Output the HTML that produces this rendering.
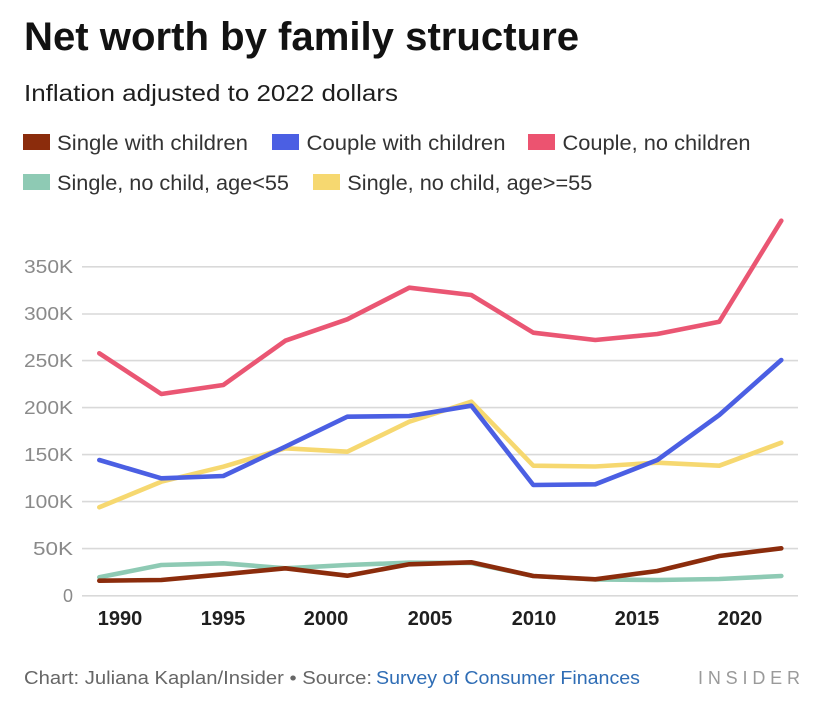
<!DOCTYPE html>
<html>
<head>
<meta charset="utf-8">
<style>
  html, body { margin: 0; padding: 0; background: #ffffff; }
  svg { display: block; }
  text { font-family: "Liberation Sans", "DejaVu Sans", sans-serif; }
</style>
</head>
<body>
<svg width="828" height="712" viewBox="0 0 828 712" xmlns="http://www.w3.org/2000/svg">
  <rect x="0" y="0" width="828" height="712" fill="#ffffff"/>

  <!-- Title & subtitle -->
  <text x="24" y="50" font-size="40" font-weight="bold" fill="#121212" textLength="555" lengthAdjust="spacingAndGlyphs">Net worth by family structure</text>
  <text x="24" y="101" font-size="23" fill="#1e1e1e" textLength="374" lengthAdjust="spacingAndGlyphs">Inflation adjusted to 2022 dollars</text>

  <!-- Legend -->
  <rect x="23" y="134" width="27" height="16" fill="#8b2c0c"/>
  <text x="57" y="150" font-size="21" fill="#333333" textLength="191" lengthAdjust="spacingAndGlyphs">Single with children</text>
  <rect x="272" y="134" width="27" height="16" fill="#4b5fe3"/>
  <text x="306.5" y="150" font-size="21" fill="#333333" textLength="199" lengthAdjust="spacingAndGlyphs">Couple with children</text>
  <rect x="528" y="134" width="27" height="16" fill="#ec5370"/>
  <text x="562.5" y="150" font-size="21" fill="#333333" textLength="188" lengthAdjust="spacingAndGlyphs">Couple, no children</text>

  <rect x="23" y="174" width="27" height="16" fill="#8ecab4"/>
  <text x="57" y="190" font-size="21" fill="#333333" textLength="232" lengthAdjust="spacingAndGlyphs">Single, no child, age&lt;55</text>
  <rect x="313" y="174" width="27" height="16" fill="#f6d870"/>
  <text x="347.3" y="190" font-size="21" fill="#333333" textLength="245" lengthAdjust="spacingAndGlyphs">Single, no child, age&gt;=55</text>

  <!-- Gridlines -->
  <g stroke="#d9d9d9" stroke-width="1.6">
    <line x1="82" y1="595.8" x2="798" y2="595.8"/>
    <line x1="82" y1="548.6" x2="798" y2="548.6"/>
    <line x1="82" y1="501.6" x2="798" y2="501.6"/>
    <line x1="82" y1="454.6" x2="798" y2="454.6"/>
    <line x1="82" y1="407.6" x2="798" y2="407.6"/>
    <line x1="82" y1="360.6" x2="798" y2="360.6"/>
    <line x1="82" y1="314.0" x2="798" y2="314.0"/>
    <line x1="82" y1="266.8" x2="798" y2="266.8"/>
  </g>

  <!-- Y labels -->
  <g font-size="18" fill="#8a8a8a" text-anchor="end">
    <text x="73" y="602">0</text>
    <text x="73" y="555" textLength="40" lengthAdjust="spacingAndGlyphs">50K</text>
    <text x="73" y="508" textLength="49" lengthAdjust="spacingAndGlyphs">100K</text>
    <text x="73" y="461" textLength="49" lengthAdjust="spacingAndGlyphs">150K</text>
    <text x="73" y="414" textLength="49" lengthAdjust="spacingAndGlyphs">200K</text>
    <text x="73" y="367" textLength="49" lengthAdjust="spacingAndGlyphs">250K</text>
    <text x="73" y="320" textLength="49" lengthAdjust="spacingAndGlyphs">300K</text>
    <text x="73" y="273" textLength="49" lengthAdjust="spacingAndGlyphs">350K</text>
  </g>

  <!-- X labels -->
  <g font-size="20" font-weight="bold" fill="#1f1f1f" text-anchor="middle">
    <text x="120" y="625">1990</text>
    <text x="223" y="625">1995</text>
    <text x="326" y="625">2000</text>
    <text x="430" y="625">2005</text>
    <text x="534" y="625">2010</text>
    <text x="637" y="625">2015</text>
    <text x="740" y="625">2020</text>
  </g>

  <!-- Series -->
  <g fill="none" stroke-width="4.6" stroke-linejoin="round" stroke-linecap="round">
    <polyline stroke="#8ecab4" points="99.3,577.3 161.3,565 223.3,563.3 285.3,568.3 347.3,565 409.3,562.7 471.3,563 533.3,576 595.3,579.5 657.3,580 719.3,579 781.3,576"/>
    <polyline stroke="#f6d870" points="99.3,507.3 161.3,481.7 223.3,466.7 285.3,448.3 347.3,451.7 409.3,421.7 471.3,401.7 533.3,465.7 595.3,466.5 657.3,462.7 719.3,465.7 781.3,442.7"/>
    <polyline stroke="#ea5673" points="99.3,353.3 161.3,394 223.3,385 285.3,340.7 347.3,319.3 409.3,287.7 471.3,295 533.3,332.7 595.3,340 657.3,334 719.3,321.7 781.3,220.7"/>
    <polyline stroke="#4b5fe3" points="99.3,460 161.3,478.3 223.3,476 285.3,446.7 347.3,416.7 409.3,416 471.3,405.7 533.3,485 595.3,484.3 657.3,460 719.3,415 781.3,360"/>
    <polyline stroke="#8b2c0c" points="99.3,580.7 161.3,580 223.3,574.3 285.3,568.3 347.3,575.7 409.3,564.3 471.3,562.3 533.3,576 595.3,579.3 657.3,571 719.3,556 781.3,548.3"/>
  </g>

  <!-- Footer -->
  <text x="24" y="684" font-size="18" fill="#666666" textLength="348" lengthAdjust="spacingAndGlyphs">Chart: Juliana Kaplan/Insider • Source:</text>
  <text x="376" y="684" font-size="18" fill="#2f6db5" textLength="264" lengthAdjust="spacingAndGlyphs">Survey of Consumer Finances</text>
  <text x="698" y="684" font-size="18" fill="#9a9a9a" textLength="102" lengthAdjust="spacing">INSIDER</text>
</svg>
</body>
</html>
